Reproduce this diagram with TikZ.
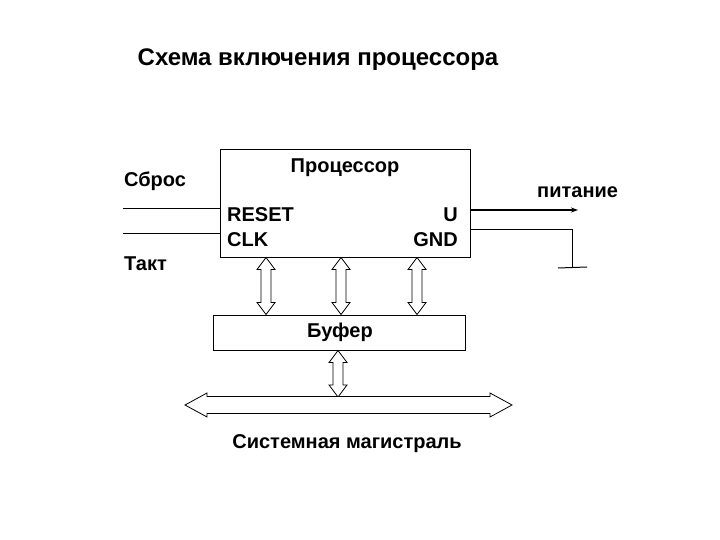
\documentclass[tikz,border=0pt]{standalone}
\usepackage{fontspec}
\setmainfont{Liberation Sans}
\usetikzlibrary{arrows.meta,calc}
\tikzset{
  lbl/.style={inner sep=0pt, font=\fontsize{20}{22}\selectfont\bfseries},
  box/.style={draw, line width=1pt, fill=white, inner sep=0pt},
  wire/.style={line width=1pt},
  fatarrow/.style={draw, line width=0.8pt, fill=white},
}
\newcommand\vdarr[2]{%
  \draw[fatarrow] let \p1=#1, \p2=#2 in
    (\x1,\y1) -- (\x1+9pt,\y1-12pt) -- (\x1+5pt,\y1-12pt) -- (\x1+5pt,\y2+12pt)
    -- (\x1+9pt,\y2+12pt) -- (\x1,\y2) -- (\x1-9pt,\y2+12pt) -- (\x1-5pt,\y2+12pt)
    -- (\x1-5pt,\y1-12pt) -- (\x1-9pt,\y1-12pt) -- cycle;}
\begin{document}
\begin{tikzpicture}[x=1pt,y=-1pt]
\useasboundingbox (0,0) rectangle (720,540);
% title
\node[lbl, anchor=base, font=\fontsize{24}{26}\selectfont\bfseries] (title) at (318,66) {Схема включения процессора};
% processor
\node[box, minimum width=250pt, minimum height=107pt] (proc) at (345,203.5) {};
\node[lbl, anchor=base] (proct) at (345,173) {Процессор};
\node[lbl, anchor=base west] (reset) at (227,222) {RESET};
\node[lbl, anchor=base west] (clk) at (227,246) {CLK};
\node[lbl, anchor=base east] (u) at (458,222) {U};
\node[lbl, anchor=base east] (gnd) at (458,246) {GND};
% left signals
\node[lbl, anchor=base west] (sbros) at (124,187) {Сброс};
\node[lbl, anchor=base west] (takt) at (124,270) {Такт};
\coordinate (rin) at (123,209);
\coordinate (cin) at (123,233);
\draw[wire] (rin) -- (rin -| proc.west);
\draw[wire] (cin) -- (cin -| proc.west);
% power
\node[lbl, anchor=base west] (pit) at (537,197) {питание};
\coordinate (uout) at (578,210);
\coordinate (gout) at (572,230);
\coordinate (gnd1) at (572,268);
\coordinate (gl) at (558,268);
\coordinate (gr) at (587,267);
\draw[wire, line width=1.5pt, -{Stealth[length=7pt,width=5pt]}] (uout -| proc.east) -- (uout);
\draw[wire] (gout -| proc.east) -- (gout) -- (gnd1);
\draw[wire] (gl) -- (gr);
% buffer
\node[box, minimum width=252pt, minimum height=35pt] (buf) at (339,332.5) {};
\node[lbl, anchor=base] (buft) at (340,337) {Буфер};
% proc-buffer arrows
\coordinate (a1) at (266,0);
\coordinate (a2) at (341,0);
\coordinate (a3) at (417,0);
\vdarr{(a1 |- proc.south)}{(a1 |- buf.north)}
\vdarr{(a2 |- proc.south)}{(a2 |- buf.north)}
\vdarr{(a3 |- proc.south)}{(a3 |- buf.north)}
% bus
\coordinate (busL) at (185,405);
\coordinate (busR) at (512,405);
\coordinate (b1) at (338,397);
\vdarr{(b1 |- buf.south)}{(b1)}
\draw[fatarrow] (busL) -- ++(22,-12) -- ++(0,3.5) -- ($(busR)+(-22,-8.5)$) -- ++(0,-3.5)
  -- (busR) -- ++(-22,12) -- ++(0,-3.5) -- ($(busL)+(22,8.5)$) -- ++(0,3.5) -- cycle;
\node[lbl, anchor=base] (bust) at (347,448) {Системная магистраль};
\end{tikzpicture}
\end{document}
